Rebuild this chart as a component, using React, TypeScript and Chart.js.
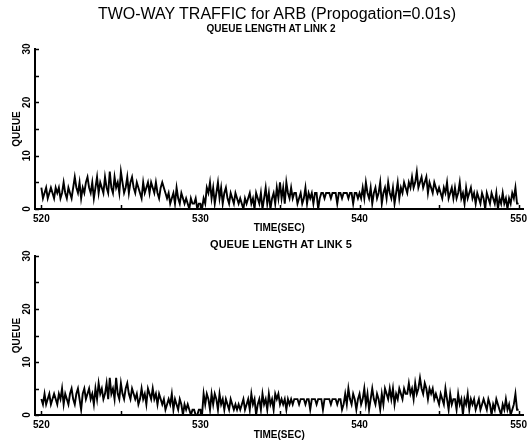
import React, { useEffect, useRef } from "react";
import { Chart, registerables } from "chart.js";

Chart.register(...registerables);

// Sampling of the queue traces (seconds)
const T_START = 520;
const T_STEP = 0.1;

// Queue length at link 2, one row per second (520 s .. 550 s)
const link2Queue = [
  4, 2, 3, 4, 2, 3, 4, 3, 2, 4,
  3, 4, 2, 3, 5, 3, 2, 4, 3, 2,
  4, 6, 4, 3, 5, 2, 4, 3, 5, 6,
  4, 3, 5, 2, 4, 6, 3, 5, 4, 3,
  6, 4, 3, 7, 4, 3, 6, 4, 5, 3,
  7, 5, 3, 4, 6, 3, 5, 6, 4, 3,
  5, 4, 3, 2, 5, 3, 4, 5, 3, 5,
  4, 3, 5, 3, 2, 4, 5, 4, 3, 2,
  3, 1, 2, 3, 1, 4, 2, 1, 3, 2,
  1, 2, 1, 0, 2, 1, 1, 2, 0, 1,
  1, 0, 2, 1, 4, 3, 5, 2, 4, 1,
  3, 5, 2, 4, 1, 3, 4, 2, 1, 3,
  2, 1, 3, 2, 1, 2, 1, 0, 2, 1,
  2, 3, 1, 2, 0, 3, 2, 1, 3, 0,
  2, 4, 1, 3, 0, 2, 3, 1, 4, 2,
  5, 2, 4, 1, 5, 3, 2, 4, 2, 3,
  3, 1, 2, 3, 1, 2, 4, 1, 3, 2,
  3, 1, 3, 3, 0, 2, 3, 3, 2, 3,
  3, 3, 2, 3, 3, 3, 1, 3, 3, 2,
  3, 3, 3, 2, 3, 3, 1, 3, 3, 2,
  3, 2, 4, 2, 5, 3, 2, 4, 1, 3,
  4, 2, 3, 5, 1, 3, 4, 2, 5, 3,
  2, 4, 1, 3, 5, 2, 4, 3, 5, 4,
  3, 5, 4, 6, 4, 5, 7, 4, 5, 6,
  4, 5, 6, 3, 5, 4, 3, 5, 4, 3,
  4, 3, 2, 4, 3, 5, 2, 3, 4, 2,
  4, 2, 3, 5, 2, 3, 1, 4, 2, 3,
  4, 2, 3, 1, 3, 2, 1, 3, 2, 0,
  3, 2, 1, 3, 2, 1, 3, 0, 2, 1,
  3, 1, 2, 0, 2, 1, 3, 2, 4, 1,
  1,
];

// Queue length at link 5, one row per second (520 s .. 550 s)
const link5Queue = [
  3, 2, 4, 2, 3, 4, 2, 3, 4, 3,
  2, 4, 3, 5, 2, 4, 3, 2, 4, 5,
  3, 2, 4, 5, 3, 1, 4, 5, 3, 4,
  5, 3, 4, 2, 5, 3, 6, 4, 5, 3,
  4, 6, 3, 7, 4, 5, 3, 7, 4, 3,
  6, 4, 3, 5, 6, 4, 3, 5, 4, 3,
  4, 2, 3, 5, 3, 4, 2, 5, 4, 3,
  5, 3, 4, 2, 4, 3, 2, 3, 1, 2,
  3, 2, 4, 1, 3, 2, 1, 3, 2, 0,
  2, 1, 2, 1, 0, 1, 1, 0, 0, 1,
  1, 0, 4, 2, 4, 3, 1, 4, 2, 4,
  3, 1, 4, 2, 3, 1, 3, 2, 1, 3,
  2, 1, 2, 1, 2, 1, 2, 3, 1, 2,
  3, 1, 4, 2, 3, 0, 2, 3, 1, 4,
  2, 3, 1, 4, 2, 3, 1, 4, 3, 4,
  2, 3, 2, 3, 1, 3, 2, 3, 2, 3,
  3, 3, 2, 3, 3, 3, 2, 3, 3, 1,
  3, 3, 3, 2, 3, 3, 3, 1, 3, 3,
  3, 3, 2, 3, 3, 3, 2, 3, 3, 1,
  2, 4, 2, 5, 3, 2, 4, 3, 1, 3,
  4, 2, 3, 5, 2, 4, 1, 3, 5, 3,
  2, 4, 3, 1, 4, 2, 5, 4, 3, 5,
  3, 5, 2, 4, 3, 5, 4, 3, 5, 4,
  4, 6, 4, 5, 3, 6, 4, 5, 7, 5,
  4, 6, 5, 3, 5, 4, 5, 3, 4, 3,
  2, 4, 3, 2, 5, 3, 1, 4, 2, 3,
  3, 1, 4, 2, 3, 0, 3, 2, 4, 1,
  3, 2, 3, 1, 2, 3, 1, 2, 3, 2,
  1, 3, 2, 0, 2, 1, 3, 2, 1, 0,
  2, 1, 3, 1, 2, 0, 1, 2, 4, 1,
  1,
];

// Axis ticks
const xLabelValues = [520, 530, 540, 550];
const xMarkValues = [520, 525, 530, 535, 540, 545, 550];
const yLabelValues = [0, 10, 20, 30];
const yMarkValues = [0, 5, 10, 15, 20, 25, 30];

const X_MIN = 519.6;
const X_MAX = 550.3;

const MAIN_TITLE = "TWO-WAY TRAFFIC for ARB (Propogation=0.01s)";
const PANEL_TITLES = ["QUEUE LENGTH AT LINK 2", "QUEUE LENGTH AT LINK 5"];
const X_TITLE = "TIME(SEC)";
const Y_TITLE = "QUEUE";

const LABEL_FONT = "'Liberation Sans Narrow', 'Liberation Sans', Arial, sans-serif";

// Inward tick marks and rotated value labels on the axes
const axisMarks = {
  id: "axisMarks",
  afterDraw(chart: any) {
    const { ctx, chartArea } = chart;
    const xs = chart.scales.x;
    const ys = chart.scales.y;
    ctx.save();
    ctx.strokeStyle = "#000";
    ctx.lineWidth = 1.5;
    ctx.beginPath();
    for (const v of xMarkValues) {
      const px = Math.round(xs.getPixelForValue(v)) + 0.5;
      ctx.moveTo(px, chartArea.bottom);
      ctx.lineTo(px, chartArea.bottom - 4);
    }
    for (const v of yMarkValues) {
      const py = Math.round(ys.getPixelForValue(v)) + 0.5;
      ctx.moveTo(chartArea.left, py);
      ctx.lineTo(chartArea.left + 4, py);
    }
    ctx.stroke();
    ctx.fillStyle = "#000";
    ctx.font = `bold 10px ${LABEL_FONT}`;
    ctx.textAlign = "center";
    ctx.textBaseline = "middle";
    for (const v of yLabelValues) {
      const py = ys.getPixelForValue(v);
      ctx.save();
      ctx.translate(chartArea.left - 8, py);
      ctx.rotate(-Math.PI / 2);
      ctx.fillText(String(v), 0, 0);
      ctx.restore();
    }
    ctx.restore();
  },
};

type PanelProps = {
  values: number[];
  width: number;
  height: number;
  areaTop: number;
  areaBottom: number;
  xTitleBottom: number;
};

function QueuePanel({ values, width, height, areaTop, areaBottom, xTitleBottom }: PanelProps) {
  const ref = useRef<HTMLCanvasElement | null>(null);

  useEffect(() => {
    if (!ref.current) return;
    const points = values.map((q, i) => ({ x: T_START + i * T_STEP, y: q }));
    const chart = new Chart(ref.current, {
      type: "line",
      data: {
        datasets: [
          {
            data: points,
            borderColor: "#000",
            borderWidth: 1.9,
            pointRadius: 0,
            tension: 0,
          },
        ],
      },
      options: {
        animation: false,
        responsive: false,
        maintainAspectRatio: false,
        events: [],
        layout: { padding: { top: areaTop, right: 5, left: 0, bottom: 0 } },
        plugins: {
          legend: { display: false },
          tooltip: { enabled: false },
        },
        scales: {
          x: {
            type: "linear",
            min: X_MIN,
            max: X_MAX,
            afterBuildTicks: (scale: any) => {
              scale.ticks = xLabelValues.map((v) => ({ value: v }));
            },
            afterFit: (scale: any) => {
              scale.height = height - areaBottom;
            },
            grid: { display: false, drawTicks: false },
            border: { display: true, color: "#000", width: 2 },
            ticks: {
              color: "#000",
              padding: 4,
              maxRotation: 0,
              autoSkip: false,
              font: { family: LABEL_FONT, size: 10, weight: "bold" },
              callback: (v: any) => String(v),
            },
            title: {
              display: true,
              text: X_TITLE,
              color: "#000",
              font: { family: LABEL_FONT, size: 10, weight: "bold" },
              padding: { top: 0, bottom: xTitleBottom },
            },
          },
          y: {
            type: "linear",
            min: 0,
            max: 30,
            afterFit: (scale: any) => {
              scale.width = 35;
            },
            grid: { display: false, drawTicks: false },
            border: { display: true, color: "#000", width: 2 },
            ticks: { display: false },
            title: {
              display: true,
              text: Y_TITLE,
              color: "#000",
              font: { family: LABEL_FONT, size: 10, weight: "bold" },
              padding: { top: 11, bottom: 0 },
            },
          },
        },
      },
      plugins: [axisMarks],
    } as any);
    return () => chart.destroy();
  }, [values, width, height, areaTop, areaBottom, xTitleBottom]);

  return <canvas ref={ref} width={width} height={height} style={{ display: "block", width, height }} />;
}

const textStyle = (top: number, size: number, bold: boolean, centerX: number): React.CSSProperties => ({
  position: "absolute",
  top,
  left: centerX - 220,
  width: 440,
  textAlign: "center",
  fontFamily: bold ? LABEL_FONT : "'Liberation Sans', Arial, sans-serif",
  fontWeight: bold ? "bold" : "normal",
  fontSize: size,
  lineHeight: `${size + 2}px`,
  color: "#000",
  whiteSpace: "nowrap",
});

export default function App() {
  return (
    <div style={{ position: "absolute", left: 0, top: 0, width: 531, height: 442, background: "#fff", overflow: "hidden" }}>
      <div style={{ position: "absolute", left: 0, top: 0 }}>
        <QueuePanel values={link2Queue} width={531} height={240} areaTop={49} areaBottom={209} xTitleBottom={6} />
      </div>
      <div style={{ position: "absolute", left: 0, top: 232 }}>
        <QueuePanel values={link5Queue} width={531} height={210} areaTop={24} areaBottom={183} xTitleBottom={1} />
      </div>
      <div style={textStyle(5, 16, false, 277)}>{MAIN_TITLE}</div>
      <div style={textStyle(23, 10, true, 271)}>{PANEL_TITLES[0]}</div>
      <div style={textStyle(238, 11, true, 281)}>{PANEL_TITLES[1]}</div>
    </div>
  );
}
